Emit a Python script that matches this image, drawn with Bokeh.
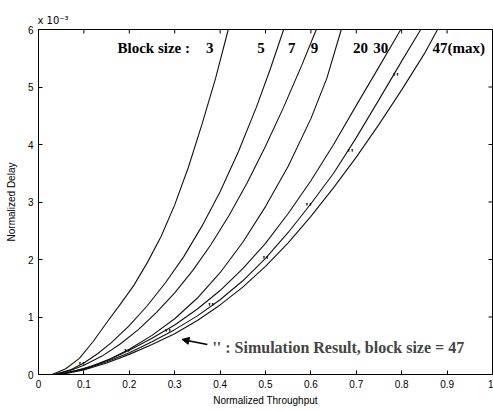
import math
from bokeh.plotting import figure
from bokeh.models import Range1d, Label, Arrow, NormalHead, FixedTicker
from bokeh.core.properties import value
from bokeh.embed import file_html
from bokeh.resources import INLINE

# ---- data (delay in units of 1e-3) ----
bs3_x = [0.03, 0.06, 0.09, 0.12, 0.15, 0.18, 0.21, 0.24, 0.27, 0.30, 0.33, 0.36, 0.39, 0.418]
bs3_y = [0.0, 0.1, 0.28, 0.57, 0.9, 1.22, 1.55, 1.95, 2.4, 2.95, 3.6, 4.35, 5.15, 6.0]
bs5_x = [0.035, 0.07, 0.10, 0.13, 0.16, 0.20, 0.24, 0.28, 0.32, 0.36, 0.40, 0.44, 0.48, 0.51, 0.54]
bs5_y = [0.0, 0.08, 0.2, 0.36, 0.55, 0.85, 1.2, 1.6, 2.05, 2.58, 3.18, 3.87, 4.65, 5.3, 6.0]
bs7_x = [0.035, 0.07, 0.10, 0.14, 0.18, 0.22, 0.26, 0.30, 0.34, 0.38, 0.42, 0.46, 0.50, 0.54, 0.58, 0.612]
bs7_y = [0.0, 0.07, 0.16, 0.32, 0.53, 0.78, 1.08, 1.42, 1.81, 2.26, 2.77, 3.34, 3.97, 4.65, 5.38, 6.0]
bs9_x = [0.04, 0.08, 0.12, 0.16, 0.20, 0.25, 0.30, 0.35, 0.40, 0.45, 0.50, 0.55, 0.60, 0.635, 0.667]
bs9_y = [0.0, 0.06, 0.15, 0.28, 0.44, 0.68, 0.97, 1.33, 1.77, 2.3, 2.92, 3.62, 4.45, 5.15, 6.0]
bs20_x = [0.04, 0.10, 0.15, 0.20, 0.25, 0.30, 0.35, 0.40, 0.45, 0.50, 0.55, 0.60, 0.65, 0.70, 0.75, 0.798]
bs20_y = [0.0, 0.1, 0.24, 0.42, 0.63, 0.86, 1.14, 1.46, 1.84, 2.28, 2.8, 3.37, 4.0, 4.68, 5.35, 6.0]
bs30_x = [0.045, 0.10, 0.15, 0.20, 0.25, 0.30, 0.35, 0.40, 0.45, 0.50, 0.55, 0.60, 0.65, 0.70, 0.75, 0.80, 0.842]
bs30_y = [0.0, 0.09, 0.22, 0.38, 0.57, 0.78, 1.02, 1.3, 1.63, 2.02, 2.47, 2.97, 3.5, 4.12, 4.78, 5.45, 6.0]
bs47_x = [0.05, 0.10, 0.15, 0.20, 0.25, 0.30, 0.35, 0.40, 0.45, 0.50, 0.55, 0.60, 0.65, 0.70, 0.75, 0.80, 0.85, 0.879]
bs47_y = [0.0, 0.08, 0.2, 0.35, 0.52, 0.71, 0.94, 1.21, 1.52, 1.88, 2.29, 2.75, 3.25, 3.78, 4.35, 4.95, 5.58, 6.0]
sim_x = [0.095, 0.195, 0.285, 0.38, 0.50, 0.595, 0.687, 0.787]
sim_y = [0.15, 0.38, 0.72, 1.18, 2.0, 2.91, 3.86, 5.17]

curves = [(bs3_x, bs3_y), (bs5_x, bs5_y), (bs7_x, bs7_y), (bs9_x, bs9_y),
          (bs20_x, bs20_y), (bs30_x, bs30_y), (bs47_x, bs47_y)]

x_ticks = [0, 0.1, 0.2, 0.3, 0.4, 0.5, 0.6, 0.7, 0.8, 0.9, 1]
y_ticks = [0, 1, 2, 3, 4, 5, 6]

block_labels = ["Block size :", "3", "5", "7", "9", "20", "30", "47(max)"]
block_label_x = [0.174, 0.377, 0.49, 0.558, 0.608, 0.709, 0.754, 0.868]
block_label_align = ["left", "center", "center", "center", "center", "center", "center", "left"]
block_label_y = [5.67] * len(block_labels)

p = figure(width=493, height=411, output_backend="svg", toolbar_location=None,
           x_range=Range1d(0, 1), y_range=Range1d(0, 6),
           min_border_left=38, min_border_right=1, min_border_top=29, min_border_bottom=37,
           title="x 10⁻³")
p.title.text_font = "DejaVu Sans"
p.title.text_font_size = "10px"
p.title.text_font_style = "normal"
p.title.text_color = "black"
p.title.align = "left"
p.title.offset = -1
p.title.standoff = 7
p.grid.visible = False
p.outline_line_color = "black"
p.background_fill_color = "white"
p.border_fill_color = "white"

FONT = "Liberation Sans"
for ax in [p.xaxis[0], p.yaxis[0]]:
    ax.major_tick_in = 4
    ax.major_tick_out = 0
    ax.minor_tick_line_color = None
    ax.axis_line_color = "black"
    ax.major_tick_line_color = "black"
    ax.major_label_text_font = FONT
    ax.major_label_text_font_size = "10px"
    ax.major_label_text_color = "black"
    ax.axis_label_text_font = FONT
    ax.axis_label_text_font_size = "10px"
    ax.axis_label_text_font_style = "normal"
    ax.axis_label_text_color = "black"
p.xaxis[0].ticker = FixedTicker(ticks=x_ticks)
p.yaxis[0].ticker = FixedTicker(ticks=y_ticks)
p.xaxis[0].axis_label = "Normalized Throughput"
p.yaxis[0].axis_label = "Normalized Delay"
p.xaxis[0].major_label_standoff = 5
p.yaxis[0].major_label_standoff = 5
p.xaxis[0].axis_label_standoff = 4
p.yaxis[0].axis_label_standoff = 8

# inward ticks on the top and right edges of the box
p.scatter(x_ticks, [y_ticks[-1]] * len(x_ticks), marker="dash", angle=math.pi / 2,
          size=8, line_color="black", line_width=1)
p.scatter([x_ticks[-1]] * len(y_ticks), y_ticks, marker="dash",
          size=8, line_color="black", line_width=1)

for cx, cy in curves:
    p.line(cx, cy, line_color="#111111", line_width=1.1)

p.text(sim_x, sim_y, text=["''"] * len(sim_x), text_font=value("Liberation Serif"),
       text_font_size="12px", text_font_style="bold", text_align="center",
       text_baseline="middle", text_color="black")

p.text(block_label_x, block_label_y, text=block_labels, text_align=block_label_align,
       text_baseline="middle", text_font=value("Liberation Serif"),
       text_font_size="15px", text_font_style="bold", text_color="black")

p.add_layout(Label(x=0.383, y=0.47, text="'' : Simulation Result, block size = 47",
                   text_font="Liberation Serif", text_font_size="16px",
                   text_font_style="bold", text_baseline="middle", text_align="left"))
p.add_layout(Arrow(x_start=0.372, y_start=0.52, x_end=0.316, y_end=0.61,
                   line_width=1.5, end=NormalHead(size=7, fill_color="black")))

open("out.html", "w").write(file_html(p, INLINE))
